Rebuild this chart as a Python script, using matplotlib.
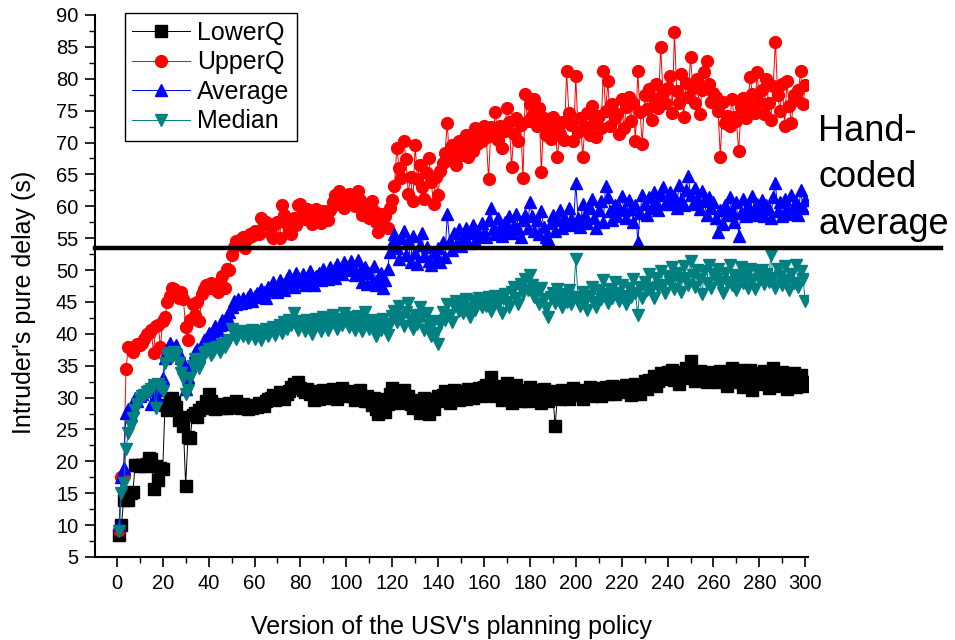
import numpy as np
import matplotlib
matplotlib.use("Agg")
import matplotlib.pyplot as plt
from matplotlib.ticker import MultipleLocator

plt.rcParams['font.family'] = ['Liberation Sans', 'DejaVu Sans']

# policy versions 1..300
versions = np.arange(1, 301)

lower_q = [
    8.5, 10, 14, 14.5, 14, 15, 15.2, 19.5, 19.5, 19.3, 19.5, 19.2, 19.6, 20.5, 20.3, 15.6, 19.2, 17, 19, 18.8,
    28.8, 28, 29.6, 30, 29.3, 28.5, 26.5, 27, 25.5, 16.2, 23.8, 23.7, 27.2, 27.6, 27, 28, 28.5, 28.3, 29.5, 30.5,
    29.5, 28.5, 28.2, 29, 28.6, 28.3, 28.8, 28.4, 29.2, 28.6, 28.9, 29.5, 28.5, 28.3, 29, 28.6, 28.2, 28.7, 28.4, 28.8,
    28.6, 29.2, 29, 28.7, 29.5, 29.8, 30, 30.4, 29.6, 30.2, 30.8, 30.3, 29.7, 30.5, 31, 31.6, 32.2, 31.8, 32.4, 31.5,
    31.2, 30.8, 31.4, 30.5, 31, 29.6, 30.2, 29.8, 30.6, 31.2, 30.5, 29.9, 30.7, 31.3, 30.1, 29.8, 30.4, 31.5, 30.9, 30.2,
    30.5, 31, 30.2, 29.6, 30.8, 31.2, 30, 29.5, 30.3, 29.4, 28.8, 29.9, 28.2, 27.5, 28.9, 29.7, 27.8, 29, 30.5, 31.5,
    31, 30.5, 29.2, 30.2, 31.2, 29.8, 30.3, 29, 28.4, 29.6, 28.8, 27.6, 29.2, 30, 28.6, 27.4, 29.5, 28.2, 29.8, 30.2,
    29.5, 30.4, 31, 30, 29.2, 30.8, 31.2, 30.1, 29.6, 31, 30.5, 29.8, 31.3, 30.6, 29.9, 31, 30.4, 31.5, 30.2, 31.7,
    32, 31.2, 33.2, 31.4, 30.2, 31.8, 30.8, 29.6, 31.5, 32.3, 30.4, 29.2, 31, 32, 30.7, 29.5, 31.2, 30.3, 29.4, 31.6,
    30.5, 31.2, 29.6, 30.8, 29.2, 31.4, 30.2, 29.5, 31, 30.6, 25.5, 30.2, 29.8, 31.2, 30.4, 30.9, 29.7, 30.8, 31.5, 30.6,
    31.2, 30.4, 29.8, 31, 30.6, 31.6, 30.2, 31.4, 30.8, 31.5, 30.2, 30.9, 31.7, 30.5, 31.2, 31.8, 30.6, 31.4, 31, 31.6,
    30.8, 31.9, 31.2, 30.4, 31.6, 32.2, 31, 30.6, 32, 32.6, 31.4, 32.8, 32.2, 33.4, 31.8, 32.6, 33.8, 32.9, 33.4, 34,
    33.2, 34.4, 32.8, 33.6, 32.2, 34, 33.5, 34.6, 33, 35.8, 33.8, 32.6, 33.4, 34.2, 32.8, 33.6, 32.4, 34, 33.2, 32.8,
    33.9, 32.5, 34.2, 33.4, 32.6, 31.8, 33.2, 34.6, 33.8, 32.4, 34.4, 33.2, 31.6, 33.8, 32.8, 34.3, 31.2, 33, 32.2, 33.8,
    32.4, 34.2, 33.4, 31.5, 33.6, 34.6, 32.6, 31.8, 33.2, 34, 32.8, 31.4, 33.5, 32.2, 33.9, 31.6, 32.9, 33.6, 31.8, 32.5,
]

upper_q = [
    9.2, 17.5, 17.8, 34.5, 38, 37.6, 37.2, 38, 38.4, 38.2, 38.6, 39.2, 40, 40.2, 40.6, 37, 41.2, 41.4, 38, 42,
    42.6, 45, 46, 47.2, 47, 46.2, 45.6, 46.6, 45.4, 41, 39, 42.2, 44.6, 43, 45, 42, 46.2, 47, 47.6, 47.2,
    48, 47.4, 47, 46.6, 48.2, 49, 47.2, 50.2, 50, 52.4, 53.6, 54.6, 54.2, 54.8, 55.2, 53.4, 55, 55.6, 55.4, 56.2,
    56, 55.6, 58.2, 57.2, 57.6, 57, 55.6, 55, 57.2, 57.6, 55, 60.2, 58.6, 57.2, 56.2, 55.6, 58.2, 57, 60.2, 60.4,
    59.2, 58, 59.6, 58.2, 57.2, 59, 59.6, 58.4, 57.4, 59.2, 58.6, 57.8, 59.4, 60.6, 61.8, 60.4, 62.4, 61.2, 59.8, 61.6,
    62, 60.6, 61.4, 60, 62.4, 61, 58.6, 60.2, 59.4, 58.2, 60.8, 59.2, 57.6, 56, 58.8, 57.2, 58.4, 56.6, 59.8, 61,
    63.2, 69.2, 66, 64.4, 70.2, 67.4, 62, 64.6, 60.8, 69.6, 64.2, 66.4, 63, 61.2, 65.2, 67.6, 63.8, 60.4, 64.6, 61.8,
    65.6, 66.8, 68.4, 73, 67.2, 69.6, 68.2, 66.4, 70.2, 68, 69.4, 71.2, 67.8, 70.6, 68.6, 72.2, 69.8, 71.6, 70.2, 72.6,
    70.8, 64.2, 72.4, 71, 74.8, 70.4, 72.6, 69.2, 71.8, 75.4, 73.2, 66.2, 71.4, 73.8, 70.2, 72.8, 64.4, 77.6, 73.4, 76,
    74.2, 76.8, 72.6, 75.4, 65.4, 73.8, 71.2, 72.4, 70.6, 74, 72, 67.8, 71.4, 73.2, 70.4, 81.2, 74.6, 72.8, 70.2, 80.4,
    71.6, 73.8, 67.8, 72.4, 74.6, 71.2, 75.8, 73, 70.8, 74.2, 72.2, 81.2, 75, 79.6, 72.6, 76, 73.8, 74.4, 71.4, 76.8,
    72.2, 75.6, 77.2, 73.4, 76.2, 70.2, 81.2, 74.8, 69.8, 77.4, 75.2, 78.4, 73.6, 76.8, 79.2, 75.4, 85, 77.8, 76.2, 78.6,
    80.4, 74.6, 87.3, 78, 76.2, 80.8, 74, 79.4, 77.2, 83.4, 78.6, 76.2, 80, 74.5, 78.2, 81, 82.8, 79.2, 76.4, 77.8,
    77.2, 75, 67.7, 76.4, 73, 74.2, 72.6, 76.8, 74, 73.4, 68.6, 75.6, 77, 73.8, 75.8, 80.2, 77.6, 74.6, 81, 76.4,
    78.2, 74.4, 80, 76.2, 73.6, 78.8, 85.8, 77.4, 75, 79.2, 72.6, 79.6, 75.8, 73, 77.4, 76.6, 78.2, 81.2, 76, 79,
]

average = [
    10, 17.6, 19, 27.6, 28.2, 27.2, 28.6, 30, 29.4, 30.2, 30.6, 31, 31.2, 31.6, 29, 29.6, 30.4, 31.2, 31.6, 33,
    36.2, 37.4, 38.6, 37.6, 37.8, 38.2, 37, 36.2, 35.2, 31.4, 33.2, 35, 36, 37.2, 37.6, 36.6, 38, 39, 39.2, 40.2,
    39.6, 40.4, 41.2, 40.6, 41.4, 42.2, 41.6, 42.8, 43.4, 44.2, 45.2, 44.6, 45.4, 44.8, 45.6, 45, 45.8, 46.2, 45.2, 46,
    46.4, 45.8, 47, 46.6, 45.6, 47.4, 46.8, 48.2, 47.2, 46.6, 48.4, 47.8, 46.8, 48.6, 49.2, 48, 47.4, 49.6, 48.8, 48.2,
    49.4, 47.6, 48.6, 49.8, 48.2, 47.6, 49, 49.6, 48.4, 50.2, 49.2, 48.6, 50.4, 49.8, 48.8, 51, 50.2, 49.4, 51.2, 50.6,
    50, 51.4, 50.6, 49.2, 51.6, 49.8, 48.2, 50.4, 47.8, 49.6, 48.2, 50.6, 47.6, 48.8, 49.6, 47.2, 48.4, 50.2, 52.8, 54.2,
    55.6, 53.4, 51.8, 55, 56.2, 52.4, 54.6, 51.2, 55.4, 52.6, 51, 54, 55.8, 52.2, 53.6, 51.4, 50.8, 52.8, 51.6, 53.4,
    51.2, 54.4, 52, 58.8, 54.6, 53.2, 55.8, 54, 56.4, 53.8, 55.2, 56.6, 54.2, 55.8, 57, 54.6, 56.2, 55.4, 57.4, 56,
    55.2, 57.8, 59.8, 56.4, 55.6, 58.2, 56.8, 55.4, 57.6, 56.2, 58.4, 55.8, 57, 58.8, 56.4, 55.2, 57.8, 58.6, 56.6, 60.6,
    58.4, 56.2, 57.8, 55.6, 59.2, 56.8, 55.2, 54.8, 57.4, 58.6, 56.2, 57.8, 59.4, 56.6, 58.2, 57.2, 59.8, 58, 57, 63.6,
    58.2, 56.8, 60.4, 58.6, 57.4, 59.8, 61.2, 58.2, 56.6, 59.4, 60.8, 57.6, 63.2, 61.4, 59.2, 57.8, 60.2, 58.4, 59.8, 61.6,
    59.4, 58.2, 61, 59.6, 57.6, 60.2, 54.4, 59, 61.8, 60.4, 58.6, 61.4, 59.8, 62.2, 60.6, 59.4, 61.8, 63, 60.4, 61.2,
    62.2, 60.4, 61.6, 59.8, 63.4, 61, 60.2, 62.6, 64.8, 61.8, 60.4, 62.8, 61.2, 59.6, 62.4, 60.8, 58.6, 61.4, 59.8, 60.6,
    58.2, 56, 59.4, 57.2, 60.2, 58.6, 61.4, 59.2, 57.6, 60.6, 55.4, 59, 61.2, 58.4, 60.2, 59.4, 61.6, 58.6, 60.4, 59.2,
    61, 58.4, 60.2, 59.6, 58.2, 61.4, 63.6, 59.2, 60.6, 58.4, 61.2, 59.6, 58.8, 61.8, 59.4, 60.6, 58.6, 62.6, 59.8, 61,
]

median = [
    9, 15, 16.6, 22, 24.4, 25.6, 26.8, 28, 29, 29.8, 30.2, 30.4, 30.8, 31, 31.4, 32, 28.4, 32.2, 31.6, 31,
    35.4, 36.6, 37, 36.4, 37.2, 36.6, 35.4, 33.8, 33, 30.6, 31.2, 33, 35, 36, 35.2, 34.6, 36, 37, 37.2, 37.6,
    36.6, 37.2, 37.8, 38, 37.2, 38.4, 38, 38.6, 39, 40.8, 40, 39.2, 39.8, 40.4, 39.6, 40.2, 39.4, 40, 40.6, 39.2,
    39.8, 40.4, 39, 40.2, 40.8, 39.6, 40.4, 41, 39.8, 40.6, 41.4, 40.2, 41.8, 40.8, 42.2, 41.4, 43.2, 41.6, 40.6, 42,
    41.4, 40.4, 42.2, 41, 40, 41.6, 42.4, 41.2, 40.4, 42.6, 41.8, 40.6, 42.2, 43, 41.6, 40.8, 42.4, 41.4, 43.2, 42,
    41, 42.6, 41.8, 40.6, 42.8, 41.6, 40.4, 43.4, 42, 40.8, 42.2, 41.2, 39.6, 41.8, 40.6, 42.4, 41, 39.8, 41.6, 42.8,
    43.6, 41.8, 44.4, 42.6, 41.2, 43.4, 44.8, 42.2, 40.8, 43, 41.6, 44.2, 42.8, 40.6, 43.2, 41.4, 39.6, 42, 40.2, 38.4,
    41.6, 43.4, 42.2, 44.6, 43, 41.8, 44.4, 45.2, 43.6, 44.8, 43.2, 45.4, 44, 42.6, 45.2, 43.8, 44.6, 45.6, 44.2, 45,
    44.4, 45.8, 43.6, 45.2, 46, 44.6, 45.4, 43.2, 46.2, 45, 44.2, 46.6, 47.4, 45.6, 44.6, 47.8, 46.4, 48.6, 46.8, 49.2,
    47.6, 45.8, 46.8, 44.6, 47.2, 45.4, 44, 42.6, 45.8, 46.4, 44.8, 47, 45.4, 44.2, 46.2, 45, 46.8, 44.6, 45.8, 51.8,
    45.6, 44.4, 46.6, 45.2, 43.8, 46, 47.4, 45, 44.2, 46.8, 45.4, 48.4, 46.2, 44.8, 47, 45.6, 48.2, 46.4, 45.2, 47.6,
    46, 44.6, 47.2, 45.8, 48.6, 46.4, 43, 47.4, 45.6, 48.2, 46.8, 49.4, 47.2, 45.6, 48.8, 47.4, 49.8, 47.6, 46.4, 49,
    48.2, 50.4, 47, 49.6, 48.4, 46.6, 50.6, 48.8, 47.6, 51.4, 49.2, 47.4, 50, 48.6, 46.2, 49.8, 48, 50.8, 47.2, 49.4,
    48.6, 50.2, 47.8, 46.4, 49.6, 48.2, 50.8, 47.6, 49.2, 46.8, 48.8, 50.4, 48, 49.6, 47.2, 50.2, 48.4, 47, 49.8, 48.6,
    50, 47.8, 49.4, 48.2, 52.4, 48.8, 47.2, 50.2, 49, 47.6, 50.6, 48.4, 46.8, 49.4, 48, 50.8, 47.4, 49.8, 48.6, 45.2,
]

hand_coded = 53.4

fig = plt.figure(figsize=(9.55, 6.4), dpi=100)
ax = fig.add_axes([0.0995, 0.1297, 0.7461, 0.8469])

ax.plot(versions, lower_q, color='black', marker='s', ms=8, lw=0.7, label='LowerQ')
ax.plot(versions, upper_q, color='red', marker='o', ms=8.5, lw=0.7, label='UpperQ')
ax.plot(versions, average, color='blue', marker='^', ms=9, lw=0.7, label='Average')
ax.plot(versions, median, color='#008080', marker='v', ms=9, lw=0.7, label='Median')

# hand-coded reference line runs past the right edge of the axes
ax.axhline(hand_coded, xmin=0, xmax=1.187, color='black', lw=3.2, clip_on=False, zorder=5)
fig.text(0.857, 0.822, "Hand-\ncoded\naverage", fontsize=26, va='top', ha='left', linespacing=1.42)

ax.set_xlim(-9.5, 301)
ax.set_ylim(5, 90)
ax.xaxis.set_major_locator(MultipleLocator(20))
ax.xaxis.set_minor_locator(MultipleLocator(10))
ax.yaxis.set_major_locator(MultipleLocator(5))
ax.yaxis.set_minor_locator(MultipleLocator(2.5))
ax.tick_params(which='major', direction='out', length=7, width=1.2, labelsize=14.5, pad=5)
ax.tick_params(which='minor', direction='out', length=4, width=1.0)
for s in ['top', 'right']:
    ax.spines[s].set_visible(False)
for s in ['left', 'bottom']:
    ax.spines[s].set_linewidth(1.5)

ax.set_xlabel("Version of the USV's planning policy", fontsize=18, labelpad=16)
ax.set_ylabel("Intruder's pure delay (s)", fontsize=18)
ax.yaxis.set_label_coords(-0.083, 0.47)

leg = ax.legend(loc='upper left', bbox_to_anchor=(0.042, 1.003), borderaxespad=0,
                fontsize=18, numpoints=1, handlelength=2.3, handletextpad=0.3,
                borderpad=0.3, labelspacing=0.22, fancybox=False, framealpha=1)
leg.get_frame().set_edgecolor('black')
leg.get_frame().set_linewidth(1.0)

fig.savefig('out.png', dpi=100)
